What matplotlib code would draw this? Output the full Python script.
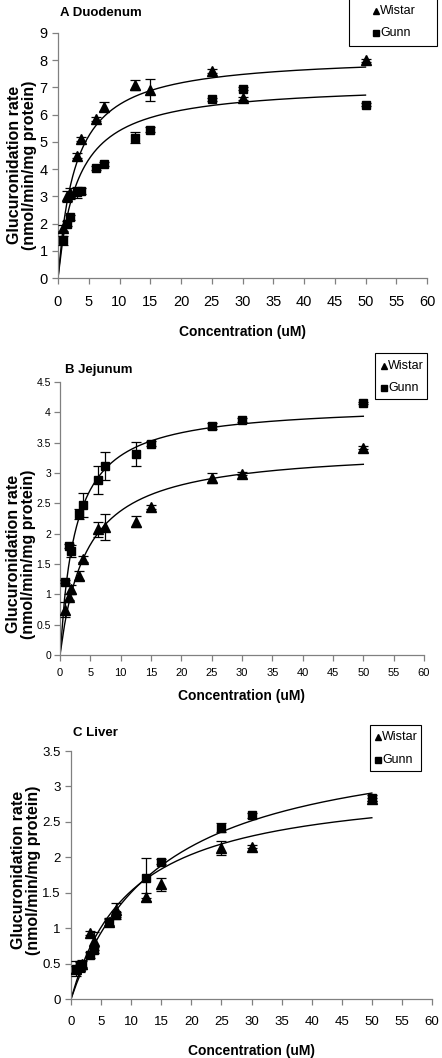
import numpy as np
import matplotlib
matplotlib.use('Agg')
import matplotlib.pyplot as plt
from matplotlib.lines import Line2D
from matplotlib.patches import Rectangle

plt.rcParams['font.family'] = ['Liberation Sans', 'DejaVu Sans']

# substrate concentrations (uM)
conc = [0.75, 1.5, 1.875, 3.125, 3.75, 6.25, 7.5, 12.5, 15, 25, 30, 50]

# A duodenum
duo_wistar = [1.83, 3.0, 3.12, 4.5, 5.1, 5.85, 6.3, 7.1, 6.9, 7.6, 6.6, 8.0]
duo_wistar_err = [0.1, 0.2, 0.2, 0.08, 0.08, 0.08, 0.15, 0.18, 0.4, 0.08, 0.05, 0.05]
duo_gunn = [1.38, 2.0, 2.23, 3.15, 3.2, 4.03, 4.19, 5.15, 5.45, 6.57, 6.95, 6.37]
duo_gunn_err = [0.15, 0.1, 0.1, 0.2, 0.1, 0.08, 0.08, 0.2, 0.08, 0.06, 0.05, 0.05]

# B jejunum
jej_wistar = [0.75, 0.96, 1.08, 1.31, 1.58, 2.07, 2.11, 2.2, 2.44, 2.92, 2.99, 3.42]
jej_wistar_err = [0.12, 0.05, 0.08, 0.08, 0.05, 0.12, 0.22, 0.09, 0.03, 0.08, 0.02, 0.02]
jej_gunn = [1.21, 1.8, 1.72, 2.32, 2.47, 2.89, 3.11, 3.31, 3.48, 3.77, 3.87, 4.15]
jej_gunn_err = [0.02, 0.03, 0.1, 0.08, 0.2, 0.23, 0.23, 0.2, 0.04, 0.05, 0.03, 0.02]

# C liver
liv_wistar = [0.42, 0.47, 0.5, 0.93, 0.82, 1.08, 1.26, 1.44, 1.62, 2.13, 2.15, 2.82]
liv_wistar_err = [0.05, 0.05, 0.05, 0.03, 0.13, 0.05, 0.1, 0.06, 0.09, 0.1, 0.02, 0.02]
liv_gunn = [0.43, 0.46, 0.48, 0.62, 0.69, 1.09, 1.18, 1.71, 1.94, 2.42, 2.59, 2.84]
liv_gunn_err = [0.1, 0.08, 0.05, 0.04, 0.04, 0.05, 0.05, 0.28, 0.03, 0.06, 0.04, 0.04]

# Michaelis-Menten fit parameters (Vmax, Km)
fits = {
    'A': {'Wistar': (8.19, 2.85), 'Gunn': (7.15, 3.21)},
    'B': {'Wistar': (3.42, 4.4), 'Gunn': (4.14, 2.6)},
    'C': {'Wistar': (3.08, 10.2), 'Gunn': (3.79, 15.2)},
}

W, H = 442, 1058
fig = plt.figure(figsize=(W / 100, H / 100), dpi=100, facecolor='white')


def px_axes(l, r, t, b):
    return fig.add_axes([l / W, 1 - b / H, (r - l) / W, (b - t) / H])


def fx(x):
    return x / W


def fy(y):
    return 1 - y / H


panels = [
    dict(key='A', title='A Duodenum', box=(58, 427, 33, 278), ymax=9, ystep=1,
         tfs=10.5, ypad=3.5, wis=duo_wistar, wis_e=duo_wistar_err,
         gun=duo_gunn, gun_e=duo_gunn_err, title_xy=(60, 13),
         leg_box=(349, -2, 437, 46), leg_mx=376, leg_y=(11, 33),
         xlab_pad=12, ylab=(-0.057, 0.46)),
    dict(key='B', title='B Jejunum', box=(60, 424, 382, 655), ymax=4.5, ystep=0.5,
         tfs=7.5, ypad=2.5, wis=jej_wistar, wis_e=jej_wistar_err,
         gun=jej_gunn, gun_e=jej_gunn_err, title_xy=(65, 370),
         leg_box=(375, 353, 427, 399), leg_mx=384, leg_y=(366, 388),
         xlab_pad=8, ylab=(-0.066, 0.37)),
    dict(key='C', title='C Liver', box=(71, 432, 751, 999), ymax=3.5, ystep=0.5,
         tfs=9.5, ypad=3.5, wis=liv_wistar, wis_e=liv_wistar_err,
         gun=liv_gunn, gun_e=liv_gunn_err, title_xy=(73, 733),
         leg_box=(370, 725, 421, 771), leg_mx=378, leg_y=(737, 760),
         xlab_pad=12, ylab=(-0.083, 0.52)),
]

axis_grey = '#808080'
curve_x = np.concatenate([[0], np.linspace(conc[0], conc[-1], 300)])

for p in panels:
    l, r, t, b = p['box']
    ax = px_axes(l, r, t, b)
    ax.set_xlim(0, 60)
    ax.set_ylim(0, p['ymax'])
    ax.set_xticks(np.arange(0, 61, 5))
    ax.set_yticks(np.arange(0, p['ymax'] + 1e-9, p['ystep']))
    ax.set_yticklabels(['{:g}'.format(v) for v in ax.get_yticks()])
    for s in ['top', 'right']:
        ax.spines[s].set_visible(False)
    for s in ['left', 'bottom']:
        ax.spines[s].set_color(axis_grey)
        ax.spines[s].set_linewidth(0.9)
    ax.tick_params(axis='both', colors=axis_grey, labelcolor='black',
                   labelsize=p['tfs'], length=4, width=0.9)
    ax.tick_params(axis='x', pad=8 if p['key'] != 'B' else 5,
                   labelsize=p['tfs'] if p['key'] != 'B' else 8)
    ax.tick_params(axis='y', pad=p['ypad'])
    ax.patch.set_alpha(0)

    for name in ['Wistar', 'Gunn']:
        vmax, km = fits[p['key']][name]
        cy = vmax * curve_x / (km + curve_x)
        ax.plot(curve_x, cy, color='black', lw=1.0, zorder=2)

    ax.errorbar(conc, p['gun'], yerr=p['gun_e'], fmt='s', color='black',
                ms=5.5, elinewidth=0.9, capsize=3.5, capthick=0.9, zorder=3)
    ax.errorbar(conc, p['wis'], yerr=p['wis_e'], fmt='^', color='black',
                ms=6.5, elinewidth=0.9, capsize=3.5, capthick=0.9, zorder=4)

    ax.set_xlabel('Concentration (uM)', fontsize=10, fontweight='bold',
                  labelpad=p['xlab_pad'])
    ax.set_ylabel('Glucuronidation rate\n(nmol/min/mg protein)', fontsize=11.5,
                  fontweight='bold', linespacing=1.0)
    ax.yaxis.set_label_coords(*p['ylab'])

    tx, ty = p['title_xy']
    fig.text(fx(tx), fy(ty), p['title'], fontsize=9.5, fontweight='bold',
             va='center', ha='left')

    # legend box, drawn in figure pixels
    x0, y0, x1, y1 = p['leg_box']
    fig.add_artist(Rectangle((fx(x0), fy(y1)), fx(x1 - x0), (y1 - y0) / H,
                             transform=fig.transFigure, facecolor='white',
                             edgecolor='black', lw=0.8))
    mx = p['leg_mx']
    for (name, marker, ms), ly in zip([('Wistar', '^', 5), ('Gunn', 's', 4.5)],
                                      p['leg_y']):
        fig.add_artist(Line2D([fx(mx)], [fy(ly)], marker=marker, color='black',
                              ms=ms, ls='none', transform=fig.transFigure))
        fig.text(fx(mx + 4), fy(ly), name, fontsize=9, va='center', ha='left')

fig.savefig('out.png', dpi=100)
